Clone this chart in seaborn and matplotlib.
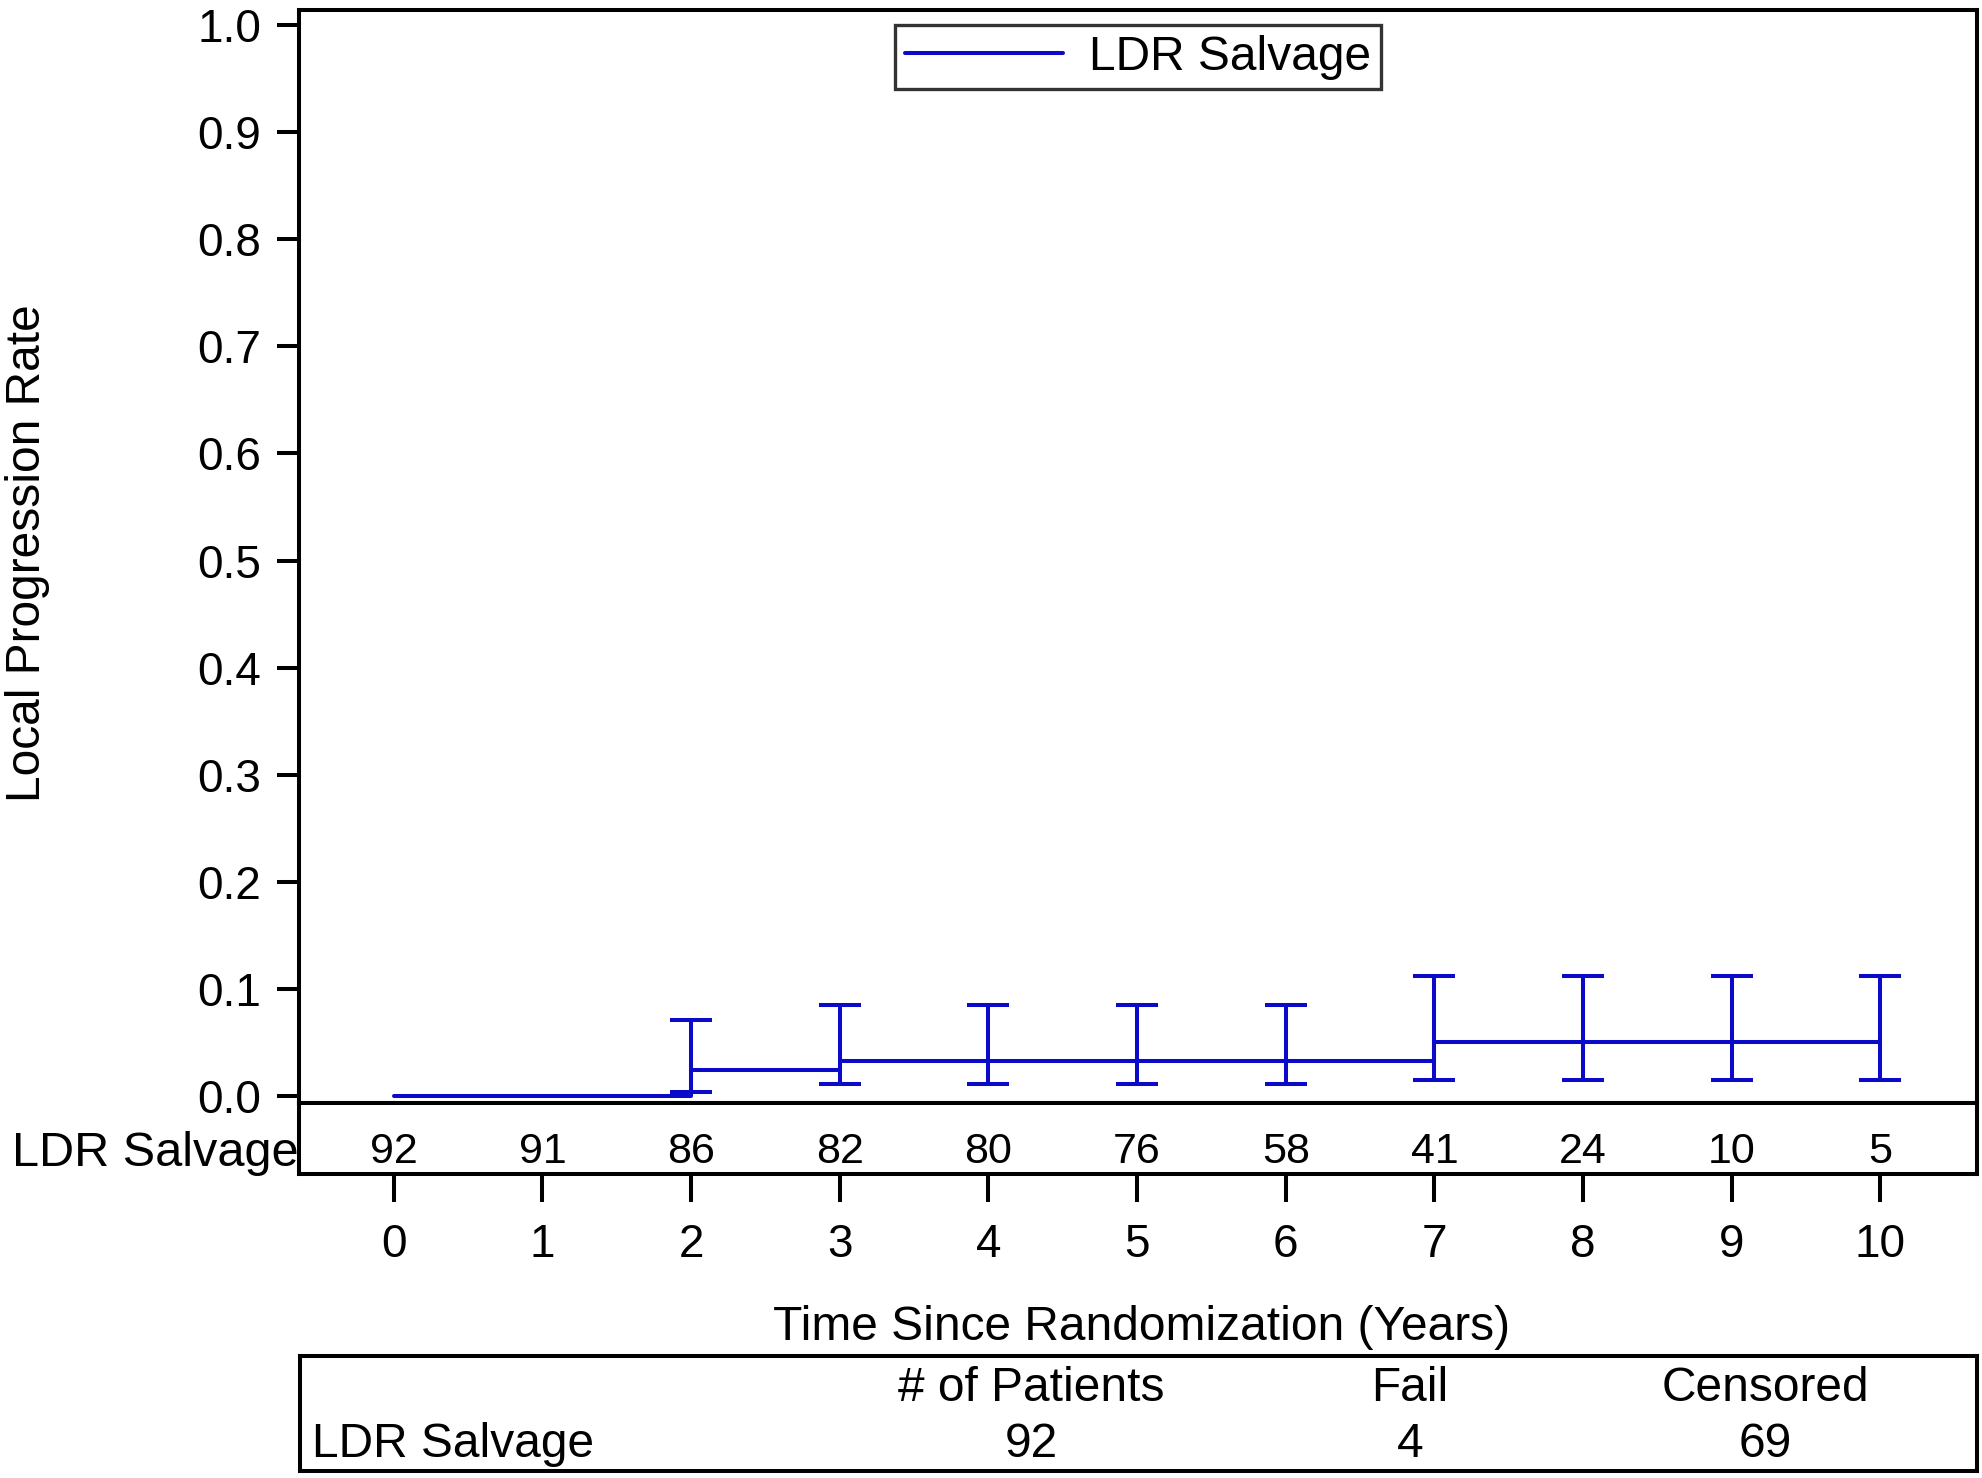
import numpy as np
import pandas as pd
import seaborn as sns
import matplotlib
matplotlib.use("Agg")
import matplotlib.pyplot as plt

# cumulative incidence step values
step_years = [0, 2, 3, 7, 10]
step_rate = [0.0, 0.024, 0.033, 0.050, 0.050]

# confidence limits shown at each yearly mark
ci_years = [2, 3, 4, 5, 6, 7, 8, 9, 10]
ci_est = [0.024, 0.033, 0.033, 0.033, 0.033, 0.050, 0.050, 0.050, 0.050]
ci_lower = [0.004, 0.011, 0.011, 0.011, 0.011, 0.015, 0.015, 0.015, 0.015]
ci_upper = [0.071, 0.085, 0.085, 0.085, 0.085, 0.112, 0.112, 0.112, 0.112]

# numbers at risk
risk_years = [0, 1, 2, 3, 4, 5, 6, 7, 8, 9, 10]
at_risk = [92, 91, 86, 82, 80, 76, 58, 41, 24, 10, 5]

group = "LDR Salvage"
summary_cols = ["# of Patients", "Fail", "Censored"]
summary_vals = [92, 4, 69]

blue = "#0A0AC8"
lw = 2.9
fs = 34.5

sns.set_theme(style="ticks")
plt.rcParams["font.family"] = ["Liberation Sans", "DejaVu Sans"]
plt.rcParams["axes.linewidth"] = lw
plt.rcParams["axes.edgecolor"] = "black"
plt.rcParams["text.color"] = "black"
plt.rcParams["xtick.color"] = "black"
plt.rcParams["ytick.color"] = "black"

W, H = 1983, 1478
fig = plt.figure(figsize=(W / 100, H / 100), dpi=100)

def px_axes(x0, y0, x1, y1):
    # pixel box (top-left origin) -> figure axes
    return fig.add_axes([x0 / W, 1 - y1 / H, (x1 - x0) / W, (y1 - y0) / H])

ax = px_axes(299, 10, 1977, 1103)
ax_risk = px_axes(299, 1103, 1977, 1174)
ax_sum = px_axes(300, 1356, 1977, 1471)

xlim = (-0.638, 10.65)

df = pd.DataFrame({"year": step_years, "rate": step_rate})
sns.lineplot(data=df, x="year", y="rate", ax=ax, drawstyle="steps-post",
             color=blue, linewidth=2.9, label=group)
ci = np.array([np.array(ci_est) - np.array(ci_lower), np.array(ci_upper) - np.array(ci_est)])
ax.errorbar(ci_years, ci_est, yerr=ci, fmt="none", ecolor=blue, elinewidth=2.9,
            capsize=15, capthick=2.9)

ax.set_xlim(*xlim)
ax.set_ylim(-0.0065, 1.014)
ax.set_yticks(np.arange(0, 1.01, 0.1))
ax.set_yticklabels([f"{v:.1f}" for v in np.arange(0, 1.01, 0.1)])
ax.tick_params(axis="y", direction="out", length=16, width=lw, pad=11,
               labelsize=33, colors="black")
ax.tick_params(axis="x", bottom=False, labelbottom=False)
ax.set_xlabel("")
ax.set_ylabel("")
for s in ax.spines.values():
    s.set_visible(True)
    s.set_linewidth(lw)

leg = ax.legend(loc="upper center", bbox_to_anchor=(0.5, 1 - 15 / 1093),
                frameon=True, fancybox=False, edgecolor="black", fontsize=fs,
                handlelength=3.3, handletextpad=0.55, borderpad=0.2,
                borderaxespad=0)
leg.get_frame().set_linewidth(2.4)

# at-risk row
ax_risk.set_xlim(*xlim)
ax_risk.set_ylim(0, 1)
for x, n in zip(risk_years, at_risk):
    ax_risk.text(x, 0.31, str(n), ha="center", va="center", fontsize=31)
ax_risk.set_yticks([])
ax_risk.set_xticks(risk_years)
ax_risk.set_xticklabels([str(v) for v in risk_years])
ax_risk.tick_params(axis="x", direction="out", length=20, width=lw, pad=15,
                    labelsize=33, colors="black")
for s in ax_risk.spines.values():
    s.set_visible(True)
    s.set_linewidth(lw)
fig.text(12 / W, 1 - 1153 / H, group, ha="left", va="center", fontsize=35)

fig.text(1142 / W, 1 - 1328 / H, "Time Since Randomization (Years)",
         ha="center", va="center", fontsize=fs)
fig.text(28 / W, 1 - 553 / H, "Local Progression Rate", rotation=90,
         ha="center", va="center", fontsize=fs)

# summary table
ax_sum.set_xticks([])
ax_sum.set_yticks([])
for s in ax_sum.spines.values():
    s.set_visible(True)
    s.set_linewidth(lw)
col_x = [0.436, 0.662, 0.874]
for cx, name, val in zip(col_x, summary_cols, summary_vals):
    ax_sum.text(cx, 0.717, name, transform=ax_sum.transAxes, ha="center",
                va="center", fontsize=fs)
    ax_sum.text(cx, 0.228, str(val), transform=ax_sum.transAxes, ha="center",
                va="center", fontsize=fs)
ax_sum.text(0.007, 0.228, group, transform=ax_sum.transAxes, ha="left",
            va="center", fontsize=fs)

fig.savefig("out.png", dpi=100)
